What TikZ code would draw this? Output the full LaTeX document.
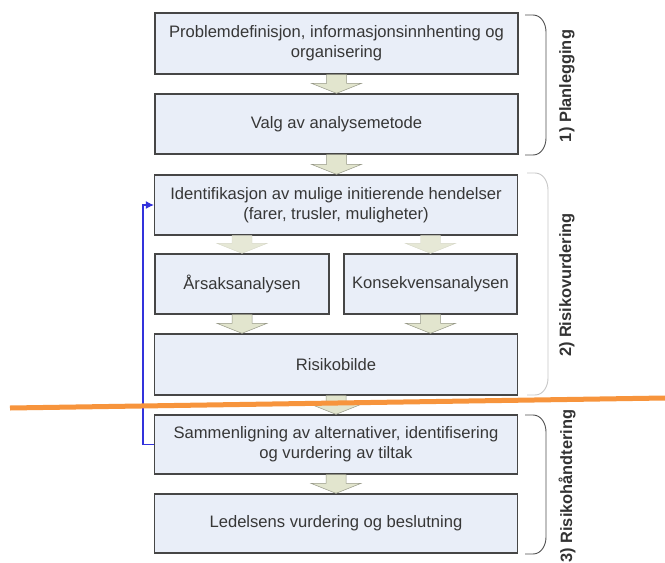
\documentclass[tikz,border=0pt]{standalone}
\usepackage{fontspec}
\setmainfont{Liberation Sans}
\usetikzlibrary{calc,arrows.meta}
\definecolor{boxfill}{RGB}{233,238,248}
\definecolor{boxline}{RGB}{70,70,70}
\definecolor{txtcol}{RGB}{55,55,55}
\definecolor{arrfill}{RGB}{226,229,206}
\definecolor{arrline}{RGB}{150,152,135}
\definecolor{arrlight}{RGB}{230,232,214}
\definecolor{orangeline}{RGB}{247,148,60}
\definecolor{fbblue}{RGB}{50,50,220}
\definecolor{brlight}{RGB}{200,200,200}
\definecolor{brdark}{RGB}{80,80,80}
\newcommand\blkarrow[3]{%
  \path[#1] let \p1=(#2), \p2=(#3) in
   (\x1-10pt,\y1) -- (\x1+10pt,\y1) -- (\x1+10pt,\y2+10pt) -- (\x1+25pt,\y2+10pt)
   -- (\x1,\y2) -- (\x1-25pt,\y2+10pt) -- (\x1-10pt,\y2+10pt) -- cycle;}
\begin{document}
\begin{tikzpicture}[x=1pt,y=-1pt,
  box/.style={draw=boxline, line width=1.3pt, fill=boxfill, inner sep=0pt,
    align=center, text=txtcol, font=\fontsize{16.6}{20}\selectfont,
    minimum width=363pt, minimum height=60pt},
  smallbox/.style={box, minimum width=174pt},
  mainarr/.style={fill=arrfill, draw=arrline, line width=0.5pt},
  lightarr/.style={fill=arrlight, draw=arrlight!85!gray, line width=0.4pt},
  lbl/.style={rotate=90, text=black!80, font=\bfseries\fontsize{16.4}{19}\selectfont, inner sep=0pt},
  brace/.style={line width=0.9pt}]
\useasboundingbox (0,0) rectangle (665,563);
\fill[white] (0,0) rectangle (665,563);

\node[box, minimum height=61pt] (p1) at (336.5,43.5) {Problemdefinisjon, informasjonsinnhenting og\\organisering};
\node[box] (p2) at (336.5,124) {Valg av analysemetode};
\node[box] (id) at (336,205) {Identifikasjon av mulige initierende hendelser\\(farer, trusler, muligheter)};
\node[smallbox] (ars) at (242,284) {Årsaksanalysen};
\node[smallbox, minimum width=173pt] (kon) at (430.5,284) {Konsekvensanalysen};
\node[box, minimum height=61pt] (ris) at (336,364.5) {Risikobilde};
\node[box, minimum height=59pt] (sam) at (336,444.5) {Sammenligning av alternativer, identifisering\\og vurdering av tiltak};
\node[box, minimum height=59pt] (led) at (336,523.5) {Ledelsens vurdering og beslutning};

% block arrows
\blkarrow{mainarr}{p1.south}{p2.north}
\blkarrow{mainarr}{p2.south}{id.north}
\blkarrow{lightarr}{ars.north |- id.south}{ars.north}
\blkarrow{lightarr}{kon.north |- id.south}{kon.north}
\blkarrow{mainarr}{ars.south}{ars.south |- ris.north}
\blkarrow{mainarr}{kon.south}{kon.south |- ris.north}
\blkarrow{mainarr}{ris.south}{sam.north}
\blkarrow{mainarr}{sam.south}{led.north}

% feedback connector
\coordinate (fbturn) at (143,444.5);
\draw[fbblue, line width=1.1pt, -{Latex[length=8pt,width=8pt]}] (sam.west) -- (fbturn) |- (id.west);

% braces
\draw[brace, brdark] (525,15) -- (533,15) to[out=0,in=90] (546,32) -- (546,138) to[out=-90,in=0] (533,155) -- (525,155);
\draw[brace, brlight] (527,173) -- (535,173) to[out=0,in=90] (548,190) -- (548,378) to[out=-90,in=0] (535,395) -- (527,395);
\draw[brace, brdark] (525,415) -- (533,415) to[out=0,in=90] (546,432) -- (546,537) to[out=-90,in=0] (533,554) -- (525,554);

\node[lbl] (l1) at (567,86) {1) Planlegging};
\node[lbl] (l2) at (567,285) {2) Risikovurdering};
\node[lbl] (l3) at (567,486) {3) Risikohåndtering};

% orange line
\coordinate (oa) at (10,408);
\coordinate (ob) at (665,398);
\draw[orangeline, line width=5pt] (oa) -- (ob);
\end{tikzpicture}
\end{document}
